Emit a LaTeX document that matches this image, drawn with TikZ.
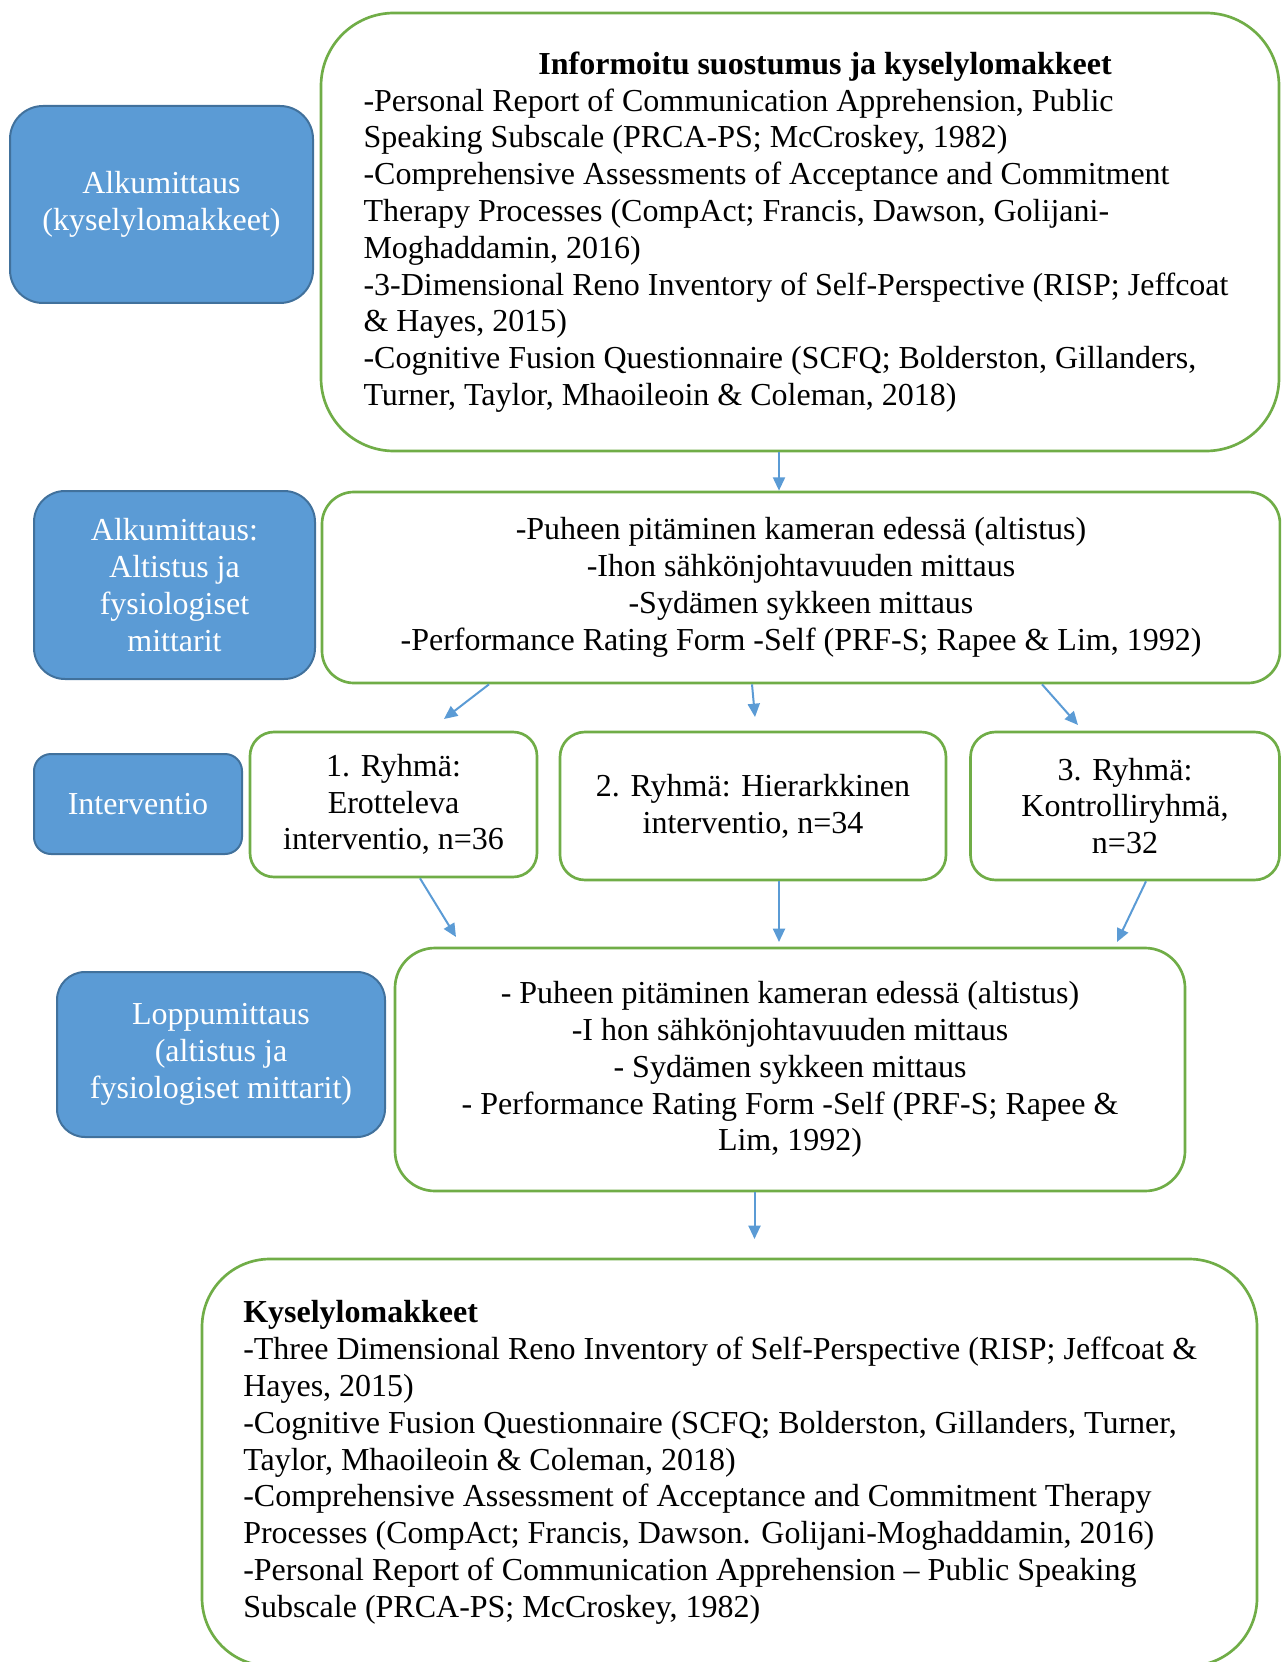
\documentclass[tikz,border=0pt]{standalone}
\usepackage{fontspec}
\setmainfont{Liberation Serif}
\usetikzlibrary{arrows.meta}
\definecolor{phasefill}{HTML}{5B9BD5}
\definecolor{phaseline}{HTML}{41719C}
\definecolor{taskline}{HTML}{70AD47}
\tikzset{
  boxdim/.style n args={3}{minimum width=#1*0.375pt, minimum height=#2*0.375pt,
    rounded corners=#3*0.375pt},
  phasebox/.style={draw=phaseline, fill=phasefill, line width=0.75pt, text=white,
    align=center, inner sep=0pt, font=\fontsize{12}{13.8}\selectfont},
  taskbox/.style={draw=taskline, fill=white, line width=1pt, align=center,
    inner sep=0pt, font=\fontsize{12}{13.8}\selectfont},
  flow/.style={draw=phasefill, line width=0.75pt, -{Triangle[length=5pt,width=4.5pt]}}
}
\begin{document}
\begin{tikzpicture}[x=0.375pt, y=-0.375pt]
        \useasboundingbox (0,0) rectangle (1281,1662);
        \clip (0,0) rectangle (1281,1662);

        % The phases
        \node[phasebox, boxdim={303}{197}{33}] (alku) at (161.5,204.5)
          {Alkumittaus\\(kyselylomakkeet)};
        \node[phasebox, boxdim={281}{188}{31}] (alkufys) at (174.5,585)
          {Alkumittaus:\\Altistus ja\\fysiologiset\\mittarit};
        \node[phasebox, boxdim={208}{100}{17}] (interventio) at (138,804)
          {Interventio};
        \node[phasebox, boxdim={328}{165}{28}] (loppufys) at (221,1054.5)
          {Loppumittaus\\(altistus ja\\fysiologiset mittarit)};

        % Questionnaires at the start
        \node[taskbox, boxdim={958}{438}{73}, align=left] (kysely) at (800,232) {
          \hspace*{65.6pt}\textbf{Informoitu suostumus ja kyselylomakkeet}\\
          -Personal Report of Communication Apprehension, Public\\
          Speaking Subscale (PRCA-PS; McCroskey, 1982)\\
          -Comprehensive Assessments of Acceptance and Commitment\\
          Therapy Processes (CompAct; Francis, Dawson, Golijani-\\
          Moghaddamin, 2016)\\
          -3-Dimensional Reno Inventory of Self-Perspective (RISP; Jeffcoat\hspace{3pt}\mbox{}\\
          \& Hayes, 2015)\\
          -Cognitive Fusion Questionnaire (SCFQ; Bolderston, Gillanders,\\
          Turner, Taylor, Mhaoileoin \& Coleman, 2018)};

        % Exposure and measures
        \node[taskbox, boxdim={958}{191}{32}] (altistus) at (801,587.5) {
          -Puheen pitäminen kameran edessä (altistus)\\
          -Ihon sähkönjohtavuuden mittaus\\
          -Sydämen sykkeen mittaus\\
          -Performance Rating Form -Self (PRF-S; Rapee \& Lim, 1992)};

        % The groups
        \node[taskbox, boxdim={287}{145}{24}] (ryhma1) at (393.5,804.5)
          {1. Ryhmä:\\Erotteleva\\interventio, n=36};
        \node[taskbox, boxdim={386}{148}{25}] (ryhma2) at (753,806)
          {2. Ryhmä: Hierarkkinen\\interventio, n=34};
        \node[taskbox, boxdim={309}{148}{25}] (ryhma3) at (1125,806)
          {3. Ryhmä:\\Kontrolliryhmä,\\n=32};

        % Exposure again
        \node[taskbox, boxdim={790}{243}{40}] (loppu) at (790,1069.5) {
          - Puheen pitäminen kameran edessä (altistus)\\
          -I hon sähkönjohtavuuden mittaus\\
          - Sydämen sykkeen mittaus\\
          - Performance Rating Form -Self (PRF-S; Rapee \&\\
          Lim, 1992)};

        % Questionnaires at the end
        \node[taskbox, boxdim={1055}{407}{68}, align=left] (kysely2) at (729.5,1462.5) {
          \textbf{Kyselylomakkeet}\\
          -Three Dimensional Reno Inventory of Self-Perspective (RISP; Jeffcoat \&\hspace{7pt}\mbox{}\\
          Hayes, 2015)\\
          -Cognitive Fusion Questionnaire (SCFQ; Bolderston, Gillanders, Turner,\\
          Taylor, Mhaoileoin \& Coleman, 2018)\\
          -Comprehensive Assessment of Acceptance and Commitment Therapy\\
          Processes (CompAct; Francis, Dawson. Golijani-Moghaddamin, 2016)\\
          -Personal Report of Communication Apprehension – Public Speaking\\
          Subscale (PRCA-PS; McCroskey, 1982)};

        % Arrow ends
        \coordinate (b1) at (444,719);
        \coordinate (b2) at (755,717);
        \coordinate (b3) at (1078,725);
        \coordinate (c1) at (456,937);
        \coordinate (c2) at (779,942);
        \coordinate (c3) at (1117,942);
        \coordinate (d1) at (754.5,1239);

        % Arrows
        \draw[flow] (kysely.south -| 779,0) -- (altistus.north -| 779,0);
        \draw[flow] (altistus.south -| 489,0) -- (b1);
        \draw[flow] (altistus.south -| 752,0) -- (b2);
        \draw[flow] (altistus.south -| 1042,0) -- (b3);
        \draw[flow] (ryhma1.south -| 420,0) -- (c1);
        \draw[flow] (ryhma2.south -| 779,0) -- (c2);
        \draw[flow] (ryhma3.south -| 1146,0) -- (c3);
        \draw[flow] (loppu.south -| 754.5,0) -- (d1);
    \end{tikzpicture}
\end{document}
